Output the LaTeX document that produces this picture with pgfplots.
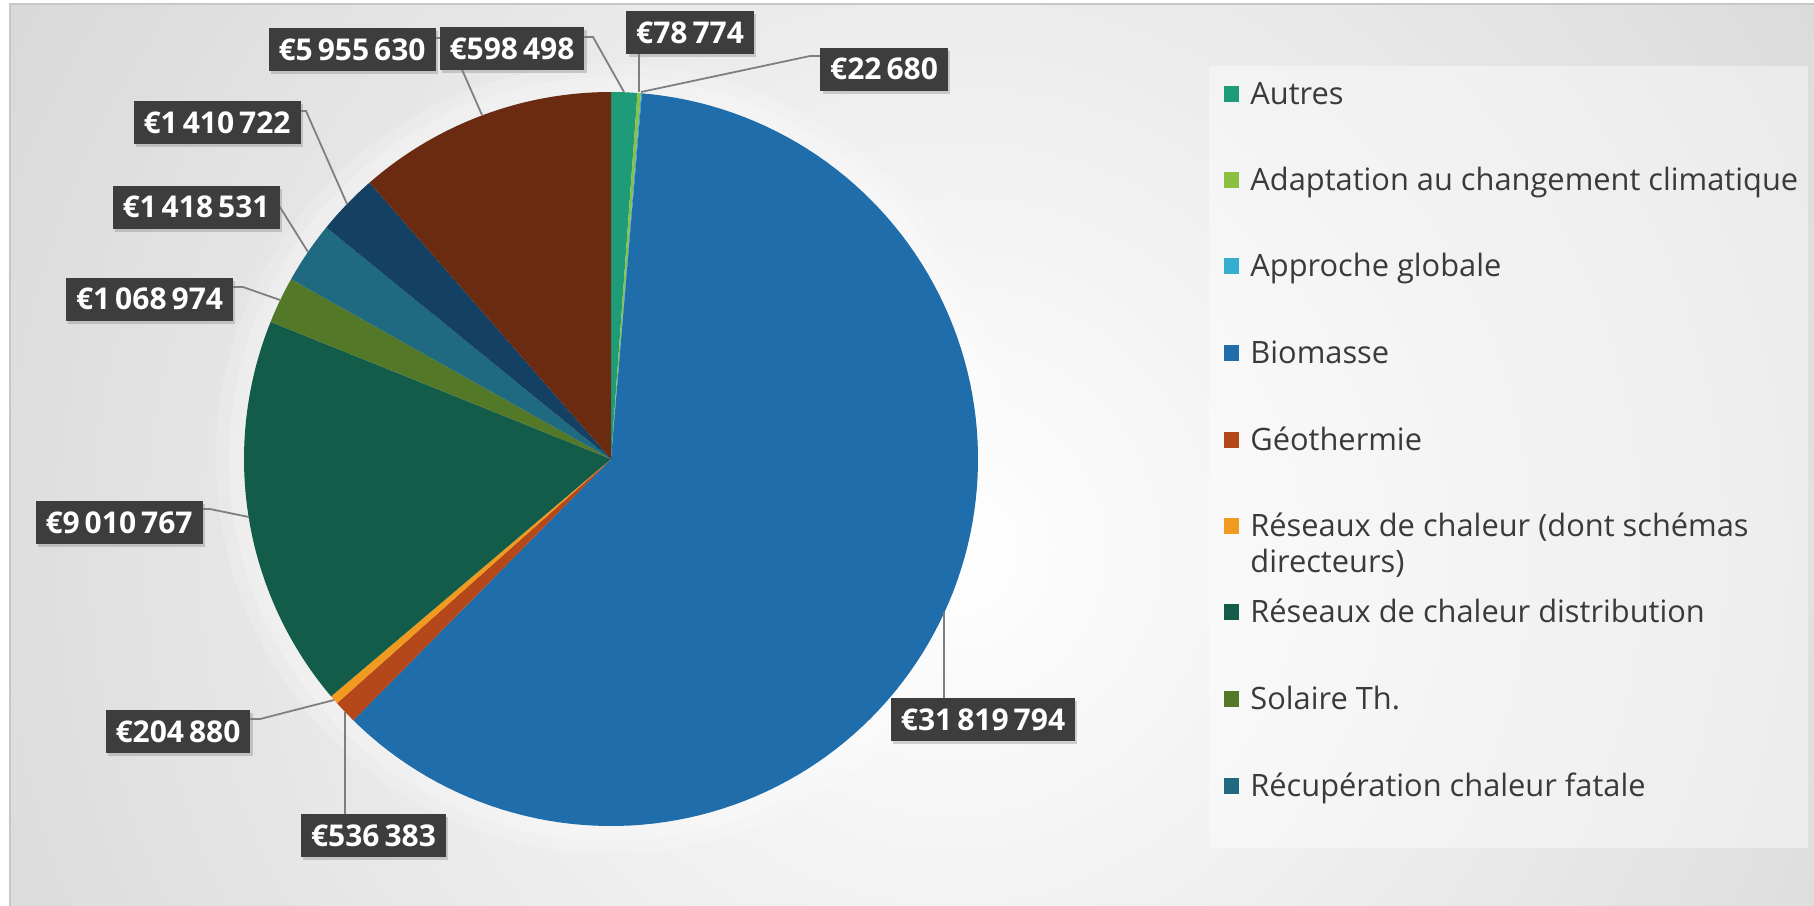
\documentclass[border=0pt]{standalone}
\usepackage{pgfplots}
\pgfplotsset{compat=1.18}
\usepackage{pgfplotstable}
\usepackage{fontspec}
\setmainfont{Open Sans}
\usetikzlibrary{shadows}

\definecolor{slice0}{HTML}{1E9B77}
\definecolor{slice1}{HTML}{8CC043}
\definecolor{slice2}{HTML}{36AED0}
\definecolor{slice3}{HTML}{1F6DAA}
\definecolor{slice4}{HTML}{B5481A}
\definecolor{slice5}{HTML}{F09A1F}
\definecolor{slice6}{HTML}{125C49}
\definecolor{slice7}{HTML}{537828}
\definecolor{slice8}{HTML}{1F6A80}
\definecolor{slice9}{HTML}{144064}
\definecolor{slice10}{HTML}{6B2B10}
\definecolor{lblbg}{HTML}{3D3D3D}
\definecolor{legtext}{HTML}{3A3A3A}
\definecolor{ldr}{HTML}{7F7F7F}

% values in euros, clockwise from 12 o'clock
\pgfplotstableread{
value
598498
78774
22680
31819794
536383
204880
9010767
1068974
1418531
1410722
5955630
}\piedata

\def\pietotal{0}
\foreach \i in {0,...,10}{%
  \pgfplotstablegetelem{\i}{value}\of\piedata
  \xdef\pietotal{\fpeval{\pietotal+\pgfplotsretval}}%
}
\gdef\piecum{0}
\gdef\pieplots{}
\foreach \i in {0,...,10}{%
  \pgfplotstablegetelem{\i}{value}\of\piedata
  \xdef\angS{\fpeval{round(90-360*\piecum/\pietotal,4)}}%
  \xdef\piecum{\fpeval{\piecum+\pgfplotsretval}}%
  \xdef\angE{\fpeval{round(90-360*\piecum/\pietotal,4)}}%
  \xdef\pieplots{\unexpanded\expandafter{\pieplots}%
    \noexpand\addplot[fill=slice\i, draw=none, domain=\angE:\angS, samples=121, variable=\noexpand\t]
    ({611+367*cos(\noexpand\t)},{459-367*sin(\noexpand\t)}) -- (611,459) -- cycle;}%
}

\tikzset{
  lbl/.style={fill=lblbg, text=white, font=\fontsize{15bp}{17bp}\selectfont\bfseries,
    inner xsep=5bp, inner ysep=0pt, minimum height=21.5bp,
    drop shadow={shadow xshift=1.2bp, shadow yshift=-1.6bp, opacity=0.35}},
  legtxt/.style={anchor=base west, inner sep=0pt, text=legtext, font=\fontsize{15.4bp}{18bp}\selectfont},
}

\begin{document}
\begin{tikzpicture}
\begin{scope}[x=0.5bp, y=-0.5bp, shift={(0,453bp)}]
  \useasboundingbox (0,0) rectangle (1814,906);
  \fill[white] (0,0) rectangle (1814,906);
  \begin{scope}
    \clip (10,4) rectangle (1814,906);
    \shade[inner color=white, outer color=black!27] (-1000,-1400) rectangle (2900,2500);
    \fill[white, opacity=0.18] (611,459) circle (395);
    \fill[white, opacity=0.22] (611,459) circle (382);
  \end{scope}
  \draw[black!22, line width=0.8bp] (10,906) -- (10,4) -- (1814,4);
\end{scope}

\begin{axis}[at={(0,0)}, anchor=south west, width=907bp, height=453bp, scale only axis,
  xmin=0, xmax=1814, ymin=0, ymax=906, y dir=reverse, hide axis, clip=false]
\pieplots
% leader lines
\addplot[ldr, line width=0.9bp, mark=none] coordinates {(482,115) (448,38) (434,38)};
\addplot[ldr, line width=0.9bp, mark=none] coordinates {(624,92) (593,37) (583,37)};
\addplot[ldr, line width=0.9bp, mark=none] coordinates {(639,92) (639,53)};
\addplot[ldr, line width=0.9bp, mark=none] coordinates {(641,92) (810,56) (822,56)};
\addplot[ldr, line width=0.9bp, mark=none] coordinates {(944,612) (944,698)};
\addplot[ldr, line width=0.9bp, mark=none] coordinates {(345,712) (345,814)};
\addplot[ldr, line width=0.9bp, mark=none] coordinates {(334,700) (260,719) (248,719)};
\addplot[ldr, line width=0.9bp, mark=none] coordinates {(249,517) (210,509) (199,509)};
\addplot[ldr, line width=0.9bp, mark=none] coordinates {(280,300) (243,287) (233,287)};
\addplot[ldr, line width=0.9bp, mark=none] coordinates {(308,252) (273,196)};
\addplot[ldr, line width=0.9bp, mark=none] coordinates {(347,204) (306,111) (295,111)};
% data labels
\node[lbl] at (axis cs:352,49.5) {€5\,955\,630};
\node[lbl] at (axis cs:512,48.5) {€598\,498};
\node[lbl] at (axis cs:690,32.5) {€78\,774};
\node[lbl] at (axis cs:884,69) {€22\,680};
\node[lbl] at (axis cs:217,122.5) {€1\,410\,722};
\node[lbl] at (axis cs:196,207) {€1\,418\,531};
\node[lbl] at (axis cs:149.5,299) {€1\,068\,974};
\node[lbl] at (axis cs:119,522.5) {€9\,010\,767};
\node[lbl] at (axis cs:178,731.5) {€204\,880};
\node[lbl] at (axis cs:373.5,835.5) {€536\,383};
\node[lbl] at (axis cs:983,719.5) {€31\,819\,794};
\end{axis}

\begin{scope}[x=0.5bp, y=-0.5bp, shift={(0,453bp)}]
  \fill[white, opacity=0.42] (1209,66) rectangle (1808,848);
  \foreach \c/\y/\t in {0/94/Autres, 1/180/Adaptation au changement climatique, 2/266/Approche globale,
      3/353/Biomasse, 4/440/Géothermie, 5/526/Réseaux de chaleur (dont schémas,
      6/612/Réseaux de chaleur distribution, 7/699/Solaire Th., 8/786/Récupération chaleur fatale}{
    \fill[slice\c] (1224,\y-8) rectangle (1239,\y+8);
    \node[legtxt] at (1250,\y+10.5) {\t};
  }
  \node[legtxt] at (1250,573) {directeurs)};
\end{scope}
\end{tikzpicture}
\end{document}
